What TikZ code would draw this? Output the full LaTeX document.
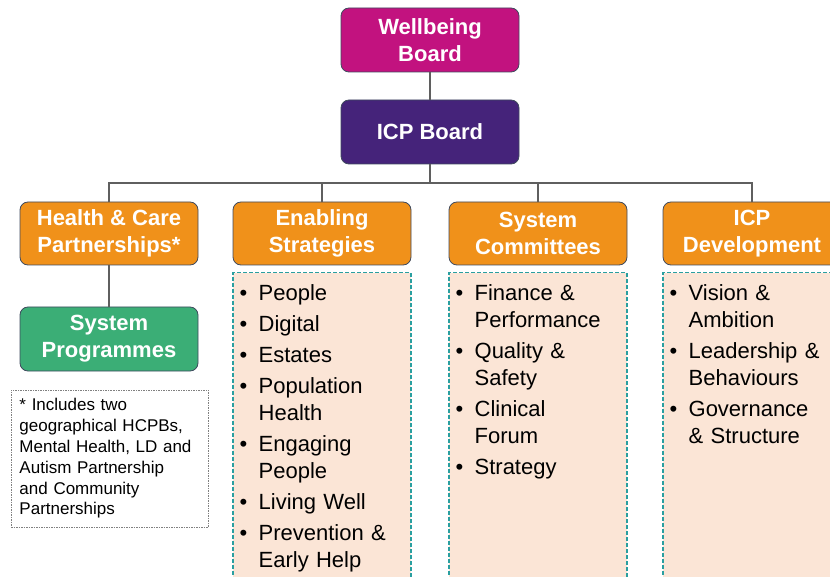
\documentclass[tikz,border=0pt]{standalone}
\usepackage{fontspec}
\setmainfont{Liberation Sans}
\usepackage{tikz}
\usetikzlibrary{positioning}

\definecolor{wbmagenta}{HTML}{C2127F}
\definecolor{icppurple}{HTML}{45237A}
\definecolor{hdrorange}{HTML}{F0911A}
\definecolor{progreen}{HTML}{3BAE76}
\definecolor{peach}{HTML}{FBE5D6}
\definecolor{tealdash}{HTML}{2A9FA0}
\definecolor{edgeslate}{HTML}{3F4A5E}
\definecolor{linkgrey}{HTML}{5F5F5F}

% one bullet point with a hanging second line
\newcommand{\itm}[1]{\par\hangindent=19pt\hangafter=1\noindent\makebox[19pt][l]{\textbullet}#1\par}

\begin{document}
\begin{tikzpicture}[x=1pt, y=-1pt,
    board/.style={rectangle, rounded corners=8pt, draw=edgeslate, line width=0.8pt,
        minimum width=178pt, minimum height=64pt, inner sep=0pt, text=white,
        align=center, font=\bfseries\fontsize{22}{27}\selectfont},
    listbox/.style={rectangle, draw=tealdash, fill=peach, line width=1.1pt,
        dash pattern=on 4pt off 2pt, minimum width=178pt, minimum height=330pt},
    listtext/.style={inner sep=0pt, text width=165pt, align=left,
        font=\fontsize{22}{27}\selectfont,
        execute at begin node={\setlength{\parskip}{4pt}}},
    link/.style={draw=linkgrey, line width=1.2pt}]
    \useasboundingbox (0,0) rectangle (830,577);
    \clip (0,0) rectangle (830,577);

    \node[board, fill=wbmagenta] (wb) at (430,40) {Wellbeing\\Board};
    \node[board, fill=icppurple] (icp) at (430,132) {ICP Board};
    \coordinate (bus) at (430,183);

    \node[board, fill=hdrorange, minimum height=63pt] (hcp) at (109,233.5) {Health \& Care\\Partnerships*};
    \node[board, fill=hdrorange, minimum height=63pt] (es) at (322,233.5) {Enabling\\Strategies};
    \node[board, fill=hdrorange, minimum height=63pt] (sc) at (538,233.5) {System\\Committees};
    \node[board, fill=hdrorange, minimum height=63pt] (dev) at (752,233.5) {ICP\\Development};
    \node[board, fill=progreen] (sp) at (109,339) {System\\Programmes};

    \node[rectangle, draw=gray, line width=0.6pt, dash pattern=on 1.5pt off 1pt,
        minimum width=197pt, minimum height=137pt, text width=180pt, align=left,
        inner sep=0pt, font=\fontsize{17}{20.8}\selectfont] (note) at (109.5,458.5)
        {* Includes two\\geographical HCPBs,\\Mental Health, LD and\\Autism Partnership\\and Community\\Partnerships};

    \node[listbox, below=7pt of es] (esbox) {};
    \node[listbox, below=7pt of sc] (scbox) {};
    \node[listbox, below=7pt of dev] (devbox) {};

    \node[listtext, anchor=north west] (eslist) at ([xshift=7pt, yshift=3pt]esbox.north west)
        {\itm{People}\itm{Digital}\itm{Estates}\itm{Population\newline Health}\itm{Engaging\newline People}\itm{Living Well}\itm{Prevention \&\newline Early Help}};
    \node[listtext, anchor=north west] (sclist) at ([xshift=7pt, yshift=3pt]scbox.north west)
        {\itm{Finance \&\newline Performance}\itm{Quality \&\newline Safety}\itm{Clinical\newline Forum}\itm{Strategy}};
    \node[listtext, anchor=north west] (devlist) at ([xshift=7pt, yshift=3pt]devbox.north west)
        {\itm{Vision \&\newline Ambition}\itm{Leadership \&\newline Behaviours}\itm{Governance\newline \& Structure}};

    \path[link] (wb) -- (icp);
    \path[link] (icp.south) -- (bus) -| (hcp.north);
    \path[link] (bus) -| (es.north);
    \path[link] (bus) -| (sc.north);
    \path[link] (bus) -| (dev.north);
    \path[link] (hcp) -- (sp);
\end{tikzpicture}
\end{document}
